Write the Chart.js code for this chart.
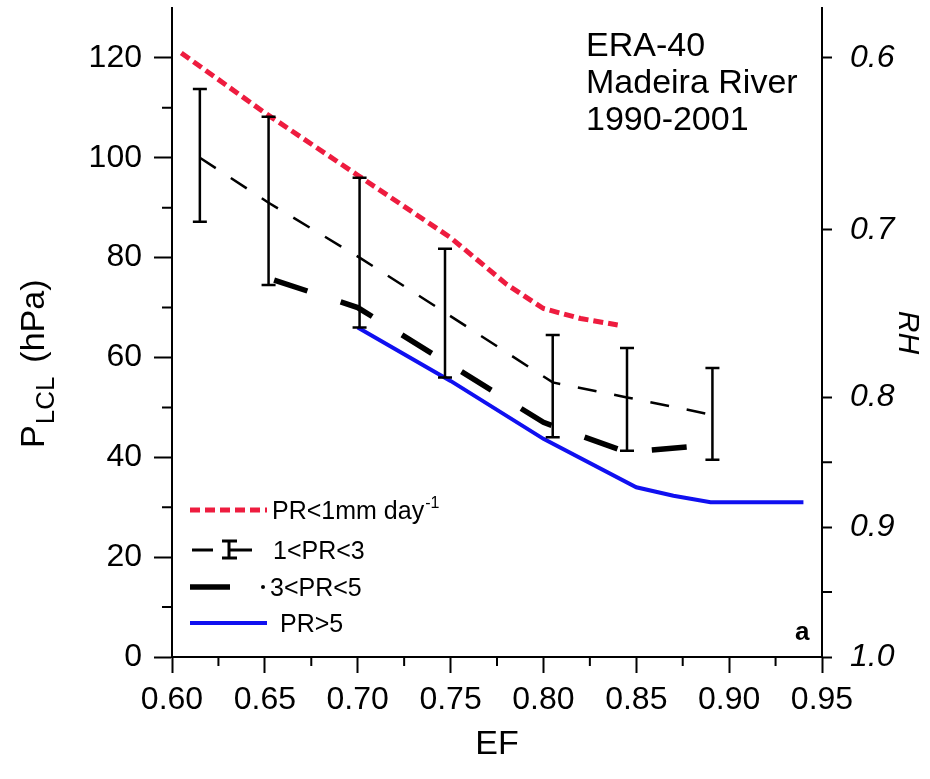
<!DOCTYPE html>
<html>
<head>
<meta charset="utf-8">
<script src="https://cdn.jsdelivr.net/npm/chart.js@4/dist/chart.umd.min.js"></script>
<style>
  body { margin: 0; background: #fff; }
  #wrap { width: 930px; height: 779px; }
</style>
</head>
<body>
<div id="wrap"><canvas id="lclChart" width="930" height="779"></canvas></div>
<script>
// EF (evaporative fraction) vs P_LCL, ERA-40 Madeira River 1990-2001
const efDry = [0.605, 0.65, 0.70, 0.75, 0.78, 0.80, 0.82, 0.84];
const lclDry = [121, 109, 96.5, 84, 74.7, 69.8, 67.8, 66.5];

const efLight = [0.615, 0.652, 0.701, 0.747, 0.805, 0.845, 0.891];
const lclLight = [100, 91, 80, 69, 55, 52, 48.5];
const lclLightHi = [113.8, 108.2, 96, 81.8, 64.5, 61.9, 57.9];
const lclLightLo = [87.2, 74.5, 66, 56, 44, 41.3, 39.5];

const efModerate = [0.655, 0.70, 0.75, 0.80, 0.845, 0.89];
const lclModerate = [75.5, 70, 58.5, 47, 41, 42.5];

const efHeavy = [0.70, 0.75, 0.80, 0.85, 0.87, 0.89, 0.94];
const lclHeavy = [66, 55.3, 43.7, 34, 32.3, 31, 31];

const efTicks = [0.60, 0.65, 0.70, 0.75, 0.80, 0.85, 0.90, 0.95];
const efMinor = [0.625, 0.675, 0.725, 0.775, 0.825, 0.875, 0.925];
const lclTicks = [0, 20, 40, 60, 80, 100, 120];
const lclMinor = [10, 30, 50, 70, 90, 110];
// RH labels on the right axis and the P_LCL level each sits at
const rhLabels = ['0.6', '0.7', '0.8', '0.9', '1.0'];
const rhAtLcl = [120, 85.6, 52, 26, 0];
const rhMinorAtLcl = [39, 13];

const pts = (xs, ys) => xs.map((x, i) => ({ x: x, y: ys[i] }));

const FONT = '"Liberation Sans", Arial, sans-serif';

const extras = {
    id: 'extras',
    afterDatasetsDraw(chart) {
        const ctx = chart.ctx;
        const xs = chart.scales.x, ys = chart.scales.y;
        // error bars for 1<PR<3
        ctx.save();
        ctx.strokeStyle = '#000';
        ctx.lineWidth = 2.5;
        efLight.forEach((e, i) => {
            const px = xs.getPixelForValue(e);
            const hi = ys.getPixelForValue(lclLightHi[i]);
            const lo = ys.getPixelForValue(lclLightLo[i]);
            ctx.beginPath();
            ctx.moveTo(px, hi); ctx.lineTo(px, lo);
            ctx.moveTo(px - 7, hi); ctx.lineTo(px + 7, hi);
            ctx.moveTo(px - 7, lo); ctx.lineTo(px + 7, lo);
            ctx.stroke();
        });
        ctx.restore();
    },
    afterDraw(chart) {
        const ctx = chart.ctx;
        const xs = chart.scales.x, ys = chart.scales.y;
        const area = chart.chartArea;
        ctx.save();
        ctx.strokeStyle = '#000';
        ctx.lineWidth = 2;
        // minor ticks
        ctx.beginPath();
        efMinor.forEach(v => {
            const px = xs.getPixelForValue(v);
            ctx.moveTo(px, area.bottom); ctx.lineTo(px, area.bottom + 9);
        });
        lclMinor.forEach(v => {
            const py = ys.getPixelForValue(v);
            ctx.moveTo(area.left, py); ctx.lineTo(area.left - 10, py);
        });
        rhMinorAtLcl.forEach(v => {
            const py = ys.getPixelForValue(v);
            ctx.moveTo(area.right, py); ctx.lineTo(area.right + 10, py);
        });
        ctx.stroke();

        ctx.fillStyle = '#000';
        // left axis title with subscript
        ctx.save();
        ctx.translate(44, 448);
        ctx.rotate(-Math.PI / 2);
        ctx.textBaseline = 'alphabetic';
        ctx.font = '34px ' + FONT;
        ctx.fillText('P', 0, 0);
        let off = ctx.measureText('P').width + 1;
        ctx.font = '26px ' + FONT;
        ctx.fillText('LCL', off, 10);
        off += ctx.measureText('LCL').width + 14;
        ctx.font = '34px ' + FONT;
        ctx.fillText('(hPa)', off, 0);
        ctx.restore();

        // data source note
        ctx.font = '34px ' + FONT;
        ctx.fillText('ERA-40', 586, 56);
        ctx.fillText('Madeira River', 586, 93);
        ctx.fillText('1990-2001', 586, 130);
        ctx.font = 'bold 26px ' + FONT;
        ctx.fillText('a', 795, 640);

        // legend
        ctx.font = '25px ' + FONT;
        const rows = [510, 550, 587, 623];
        ctx.lineCap = 'butt';
        ctx.setLineDash([10, 5]);
        ctx.strokeStyle = '#ee1c3f';
        ctx.lineWidth = 5;
        ctx.beginPath(); ctx.moveTo(190, rows[0]); ctx.lineTo(267, rows[0]); ctx.stroke();
        ctx.setLineDash([]);
        ctx.fillText('PR<1mm day', 272, rows[0] + 9);
        const w = ctx.measureText('PR<1mm day').width;
        ctx.font = '16px ' + FONT;
        ctx.fillText('-1', 272 + w + 1, rows[0] - 2);

        ctx.strokeStyle = '#000';
        ctx.lineWidth = 3;
        ctx.beginPath();
        ctx.moveTo(192, rows[1]); ctx.lineTo(213, rows[1]);
        ctx.moveTo(229, rows[1]); ctx.lineTo(252, rows[1]);
        ctx.moveTo(229, rows[1] - 9); ctx.lineTo(229, rows[1] + 8);
        ctx.moveTo(222, rows[1] - 9); ctx.lineTo(237, rows[1] - 9);
        ctx.moveTo(222, rows[1] + 8); ctx.lineTo(237, rows[1] + 8);
        ctx.stroke();
        ctx.font = '25px ' + FONT;
        ctx.fillText('1<PR<3', 273, rows[1] + 9);

        ctx.lineWidth = 5.5;
        ctx.beginPath(); ctx.moveTo(190, rows[2]); ctx.lineTo(230, rows[2]); ctx.stroke();
        ctx.beginPath(); ctx.arc(263, rows[2], 2, 0, Math.PI * 2); ctx.fill();
        ctx.fillText('3<PR<5', 270, rows[2] + 9);

        ctx.strokeStyle = '#1010f0';
        ctx.lineWidth = 4;
        ctx.beginPath(); ctx.moveTo(190, rows[3]); ctx.lineTo(267, rows[3]); ctx.stroke();
        ctx.fillText('PR>5', 280, rows[3] + 9);
        ctx.restore();
    }
};

// drop the automatic label padding so the plot box matches the original frame
const noPadV = s => { s.paddingTop = 0; s.paddingBottom = 0; };

const data = {
    datasets: [{
        label: 'PR<1mm day-1',
        data: pts(efDry, lclDry),
        borderColor: '#ee1c3f',
        borderWidth: 5,
        borderDash: [10, 5]
    }, {
        label: '1<PR<3',
        data: pts(efLight, lclLight),
        borderColor: '#000',
        borderWidth: 2.5,
        borderDash: [19, 18]
    }, {
        label: '3<PR<5',
        data: pts(efModerate, lclModerate),
        borderColor: '#000',
        borderWidth: 5.5,
        borderDash: [35, 35]
    }, {
        label: 'PR>5',
        data: pts(efHeavy, lclHeavy),
        borderColor: '#1010f0',
        borderWidth: 4
    }]
};

const config = {
    type: 'line',
    data: data,
    plugins: [extras],
    options: {
        responsive: false,
        animation: false,
        layout: { padding: { top: 8 } },
        elements: { point: { radius: 0 }, line: { tension: 0, fill: false } },
        plugins: { legend: { display: false }, tooltip: { enabled: false } },
        scales: {
            x: {
                type: 'linear',
                position: 'bottom',
                min: 0.6,
                max: 0.95,
                afterBuildTicks: s => { s.ticks = efTicks.map(v => ({ value: v })); },
                afterFit: s => { s.height = 122; s.paddingLeft = 0; s.paddingRight = 0; },
                ticks: {
                    color: '#000',
                    font: { family: FONT, size: 32 },
                    padding: 8,
                    maxRotation: 0,
                    autoSkip: false,
                    callback: v => v.toFixed(2)
                },
                grid: { drawOnChartArea: false, tickLength: 16, tickColor: '#000', tickWidth: 2 },
                border: { color: '#000', width: 2 },
                title: { display: true, text: 'EF', color: '#000', font: { family: FONT, size: 34 }, padding: { top: 0, bottom: 14 } }
            },
            y: {
                type: 'linear',
                position: 'left',
                min: 0,
                max: 130,
                afterBuildTicks: s => { s.ticks = lclTicks.map(v => ({ value: v })); },
                afterFit: s => { s.width = 172; noPadV(s); },
                ticks: {
                    color: '#000',
                    font: { family: FONT, size: 32 },
                    padding: 12
                },
                grid: { drawOnChartArea: false, tickLength: 18, tickColor: '#000', tickWidth: 2 },
                border: { color: '#000', width: 2 }
            },
            y2: {
                type: 'linear',
                position: 'right',
                min: 0,
                max: 130,
                afterBuildTicks: s => { s.ticks = rhAtLcl.map(v => ({ value: v })); },
                afterFit: s => { s.width = 108; noPadV(s); },
                ticks: {
                    color: '#000',
                    font: { family: FONT, size: 32, style: 'italic' },
                    padding: 18,
                    autoSkip: false,
                    callback: v => rhLabels[rhAtLcl.indexOf(v)]
                },
                grid: { drawOnChartArea: false, tickLength: 10, tickColor: '#000', tickWidth: 2 },
                border: { color: '#000', width: 2 },
                title: { display: true, text: 'RH', color: '#000', font: { family: FONT, size: 30, style: 'italic' }, padding: { top: 5, bottom: 0 } }
            }
        }
    }
};

const ctx = document.getElementById('lclChart').getContext('2d');
new Chart(ctx, config);
</script>
</body>
</html>
